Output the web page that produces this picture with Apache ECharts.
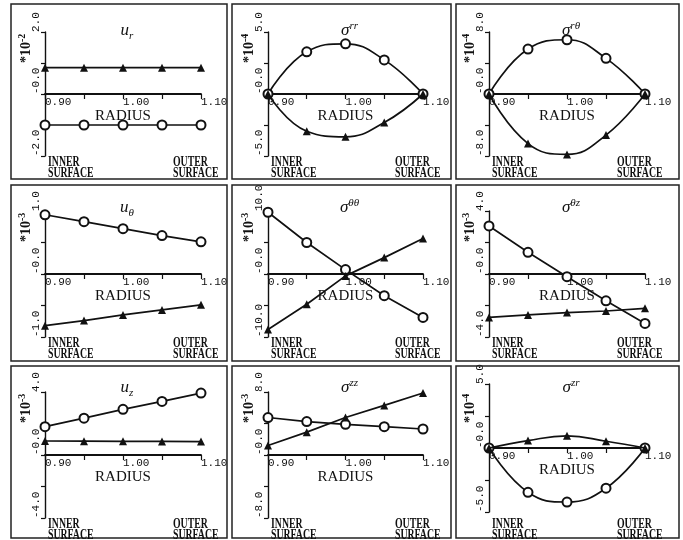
<!DOCTYPE html>
<html>
<head>
<meta charset="utf-8">
<script src="https://cdn.jsdelivr.net/npm/echarts@6/dist/echarts.min.js"></script>
<style>
  html, body { margin: 0; padding: 0; background: #fff; }
  #c { width: 683px; height: 540px; }
</style>
</head>
<body>
<div id="c"></div>
<script>
// Radial stations (inner surface 0.90 to outer surface 1.10)
const radius = [0.90, 0.95, 1.00, 1.05, 1.10];
const xLabelTicks = [0.90, 1.00, 1.10];

// Displacements and stresses at each station: open circles / filled triangles
const urCircle   = [-1.00, -1.00, -1.00, -1.00, -1.00];   // x10^-2
const urTriangle = [0.85, 0.85, 0.85, 0.85, 0.85];

const srrCircle   = [0, 3.40, 4.05, 2.75, 0];              // x10^-4
const srrTriangle = [0, -3.00, -3.45, -2.30, 0];

const srtCircle   = [0, 5.8, 7.0, 4.6, 0];                 // x10^-4
const srtTriangle = [0, -6.4, -7.8, -5.3, 0];

const utCircle   = [0.94, 0.83, 0.72, 0.61, 0.51];         // x10^-3
const utTriangle = [-0.82, -0.74, -0.65, -0.57, -0.49];

const sttCircle   = [9.8, 5.0, 0.7, -3.45, -6.9];          // x10^-3
const sttTriangle = [-8.8, -4.8, -0.3, 2.6, 5.65];

const stzCircle   = [3.05, 1.38, -0.17, -1.7, -3.14];      // x10^-3
const stzTriangle = [-2.76, -2.60, -2.45, -2.35, -2.18];

const uzCircle   = [1.80, 2.34, 2.90, 3.40, 3.93];         // x10^-3
const uzTriangle = [0.89, 0.88, 0.87, 0.86, 0.85];

const szzCircle   = [4.76, 4.25, 3.90, 3.60, 3.30];        // x10^-3
const szzTriangle = [1.20, 2.90, 4.76, 6.30, 7.87];

const szrCircle   = [0, -3.46, -4.22, -3.14, 0];           // x10^-4
const szrTriangle = [0, 0.58, 0.95, 0.53, 0];

// Panel definitions: title, exponent, axis half-range, tick step
const panelTitles = ['{i|u}{sub|r}', '{i|σ}{sup|rr}', '{i|σ}{sup|rθ}',
                     '{i|u}{sub|θ}', '{i|σ}{sup|θθ}', '{i|σ}{sup|θz}',
                     '{i|u}{sub|z}', '{i|σ}{sup|zz}', '{i|σ}{sup|zr}'];
const panelExponents = ['-2', '-4', '-4', '-3', '-3', '-3', '-3', '-3', '-4'];
const panelRanges = [2, 5, 8, 1, 10, 4, 4, 8, 5];
const panelSteps  = [1, 2.5, 4, 0.5, 5, 2, 2, 4, 2.5];
const panelCircles   = [urCircle, srrCircle, srtCircle, utCircle, sttCircle, stzCircle, uzCircle, szzCircle, szrCircle];
const panelTriangles = [urTriangle, srrTriangle, srtTriangle, utTriangle, sttTriangle, stzTriangle, uzTriangle, szzTriangle, szrTriangle];
const panelSmooth = [false, true, true, false, false, false, false, false, true];

// Page layout (pixels)
const cols = [
  { bx: 11,  bw: 216, ax: 45,  aw: 156 },
  { bx: 232, bw: 219, ax: 268, aw: 155 },
  { bx: 456, bw: 223, ax: 489, aw: 156 }
];
const rows = [
  { by: 4,   bh: 175, ay: 32,  ah: 124, ty: 31 },
  { by: 185, bh: 176, ay: 211, ah: 126, ty: 208 },
  { by: 366, bh: 172, ay: 392, ah: 126, ty: 388 }
];
const axisOverride = { 8: { ay: 384, ah: 128 } };

const MONO = "'Liberation Mono', 'DejaVu Sans Mono', monospace";
const SERIF = "'Liberation Serif', 'DejaVu Serif', serif";
const INK = '#111';

const chart = echarts.init(document.getElementById('c'), null, { renderer: 'canvas', width: 683, height: 540 });

const grids = [], xAxes = [], yAxes = [], series = [], graphics = [];

function pairs(ys) { return radius.map((r, k) => [r, ys[k]]); }

panelTitles.forEach((title, i) => {
  const c = cols[i % 3], r = rows[Math.floor(i / 3)];
  const ov = axisOverride[i] || {};
  const ay = ov.ay !== undefined ? ov.ay : r.ay;
  const ah = ov.ah !== undefined ? ov.ah : r.ah;
  const range = panelRanges[i];

  grids.push({ left: c.ax, top: ay, width: c.aw, height: ah, containLabel: false });

  // the radius axis runs through the zero level, which sits mid-height on the symmetric value range
  xAxes.push({
    gridIndex: i, type: 'value', min: 0.9, max: 1.1, interval: 0.05,
    position: 'bottom', offset: -ah / 2,
    axisLine: { show: true, onZero: false, lineStyle: { color: INK, width: 1.8 } },
    axisTick: { show: true, length: 5, lineStyle: { color: INK, width: 1.2 } },
    splitLine: { show: false },
    axisLabel: {
      margin: 3, align: 'left', color: INK, fontFamily: MONO, fontSize: 11,
      formatter: v => xLabelTicks.some(t => Math.abs(t - v) < 1e-6) ? v.toFixed(2) : ''
    },
    name: 'RADIUS', nameLocation: 'middle', nameGap: 9,
    nameTextStyle: { color: INK, fontFamily: SERIF, fontSize: 15, verticalAlign: 'top' }
  });

  yAxes.push({
    gridIndex: i, type: 'value', min: -range, max: range, interval: panelSteps[i],
    axisLine: { show: true, onZero: false, lineStyle: { color: INK, width: 1.4 } },
    axisTick: { show: true, length: 4, lineStyle: { color: INK, width: 1.2 } },
    splitLine: { show: false },
    axisLabel: {
      rotate: 90, align: 'left', verticalAlign: 'bottom', margin: 3,
      color: INK, fontFamily: MONO, fontSize: 11,
      formatter: v => {
        if (Math.abs(v) < 1e-9) return '-0.0';
        if (Math.abs(Math.abs(v) - range) < 1e-9) return v.toFixed(1);
        return '';
      }
    }
  });

  const smooth = panelSmooth[i] ? 0.45 : false;
  series.push({
    type: 'line', xAxisIndex: i, yAxisIndex: i, data: pairs(panelCircles[i]), smooth,
    symbol: 'emptyCircle', symbolSize: 9, showSymbol: true,
    lineStyle: { color: INK, width: 1.7 },
    itemStyle: { color: INK, borderWidth: 1.3 },
    z: 3
  });
  series.push({
    type: 'line', xAxisIndex: i, yAxisIndex: i, data: pairs(panelTriangles[i]), smooth,
    symbol: 'triangle', symbolSize: 8, showSymbol: true,
    lineStyle: { color: INK, width: 1.7 },
    itemStyle: { color: INK, borderWidth: 0 },
    z: 4
  });

  // panel frame
  graphics.push({
    type: 'rect', shape: { x: c.bx, y: r.by, width: c.bw, height: r.bh },
    style: { fill: null, stroke: '#222', lineWidth: 1.5 }, z: 10
  });

  // panel title
  graphics.push({
    type: 'text', x: c.ax + c.aw / 2 + 4, y: r.ty,
    style: {
      text: title, align: 'center', verticalAlign: 'middle', fill: INK,
      rich: {
        i:   { fontFamily: SERIF, fontStyle: 'italic', fontSize: 17, lineHeight: 21, fill: INK },
        sup: { fontFamily: SERIF, fontStyle: 'italic', fontSize: 11, lineHeight: 11, verticalAlign: 'top', fill: INK },
        sub: { fontFamily: SERIF, fontStyle: 'italic', fontSize: 11, lineHeight: 11, verticalAlign: 'bottom', fill: INK }
      }
    }, z: 10
  });

  // scale factor, rotated along the value axis
  graphics.push({
    type: 'text', x: c.ax - 19, y: r.ay + 31, rotation: Math.PI / 2,
    style: {
      text: '{m|*10}{s|' + panelExponents[i] + '}', align: 'left', verticalAlign: 'middle', fill: INK,
      rich: {
        m: { fontFamily: SERIF, fontWeight: 'bold', fontSize: 14, lineHeight: 18, fill: INK },
        s: { fontFamily: SERIF, fontWeight: 'bold', fontSize: 10, lineHeight: 10, verticalAlign: 'top', fill: INK }
      }
    }, z: 10
  });

  // surface markers
  const textTop = r.ay + r.ah + 1;
  graphics.push({
    type: 'text', x: c.ax + 3, y: textTop, scaleX: 0.7,
    style: { text: 'INNER\nSURFACE', align: 'left', verticalAlign: 'top', fill: INK,
             fontFamily: SERIF, fontWeight: 'bold', fontSize: 14, lineHeight: 11 }, z: 10
  });
  graphics.push({
    type: 'text', x: c.ax + c.aw - 28, y: textTop, scaleX: 0.7,
    style: { text: 'OUTER\nSURFACE', align: 'left', verticalAlign: 'top', fill: INK,
             fontFamily: SERIF, fontWeight: 'bold', fontSize: 14, lineHeight: 11 }, z: 10
  });
});

chart.setOption({
  animation: false,
  backgroundColor: '#fff',
  grid: grids,
  xAxis: xAxes,
  yAxis: yAxes,
  series: series,
  graphic: graphics
});
</script>
</body>
</html>
